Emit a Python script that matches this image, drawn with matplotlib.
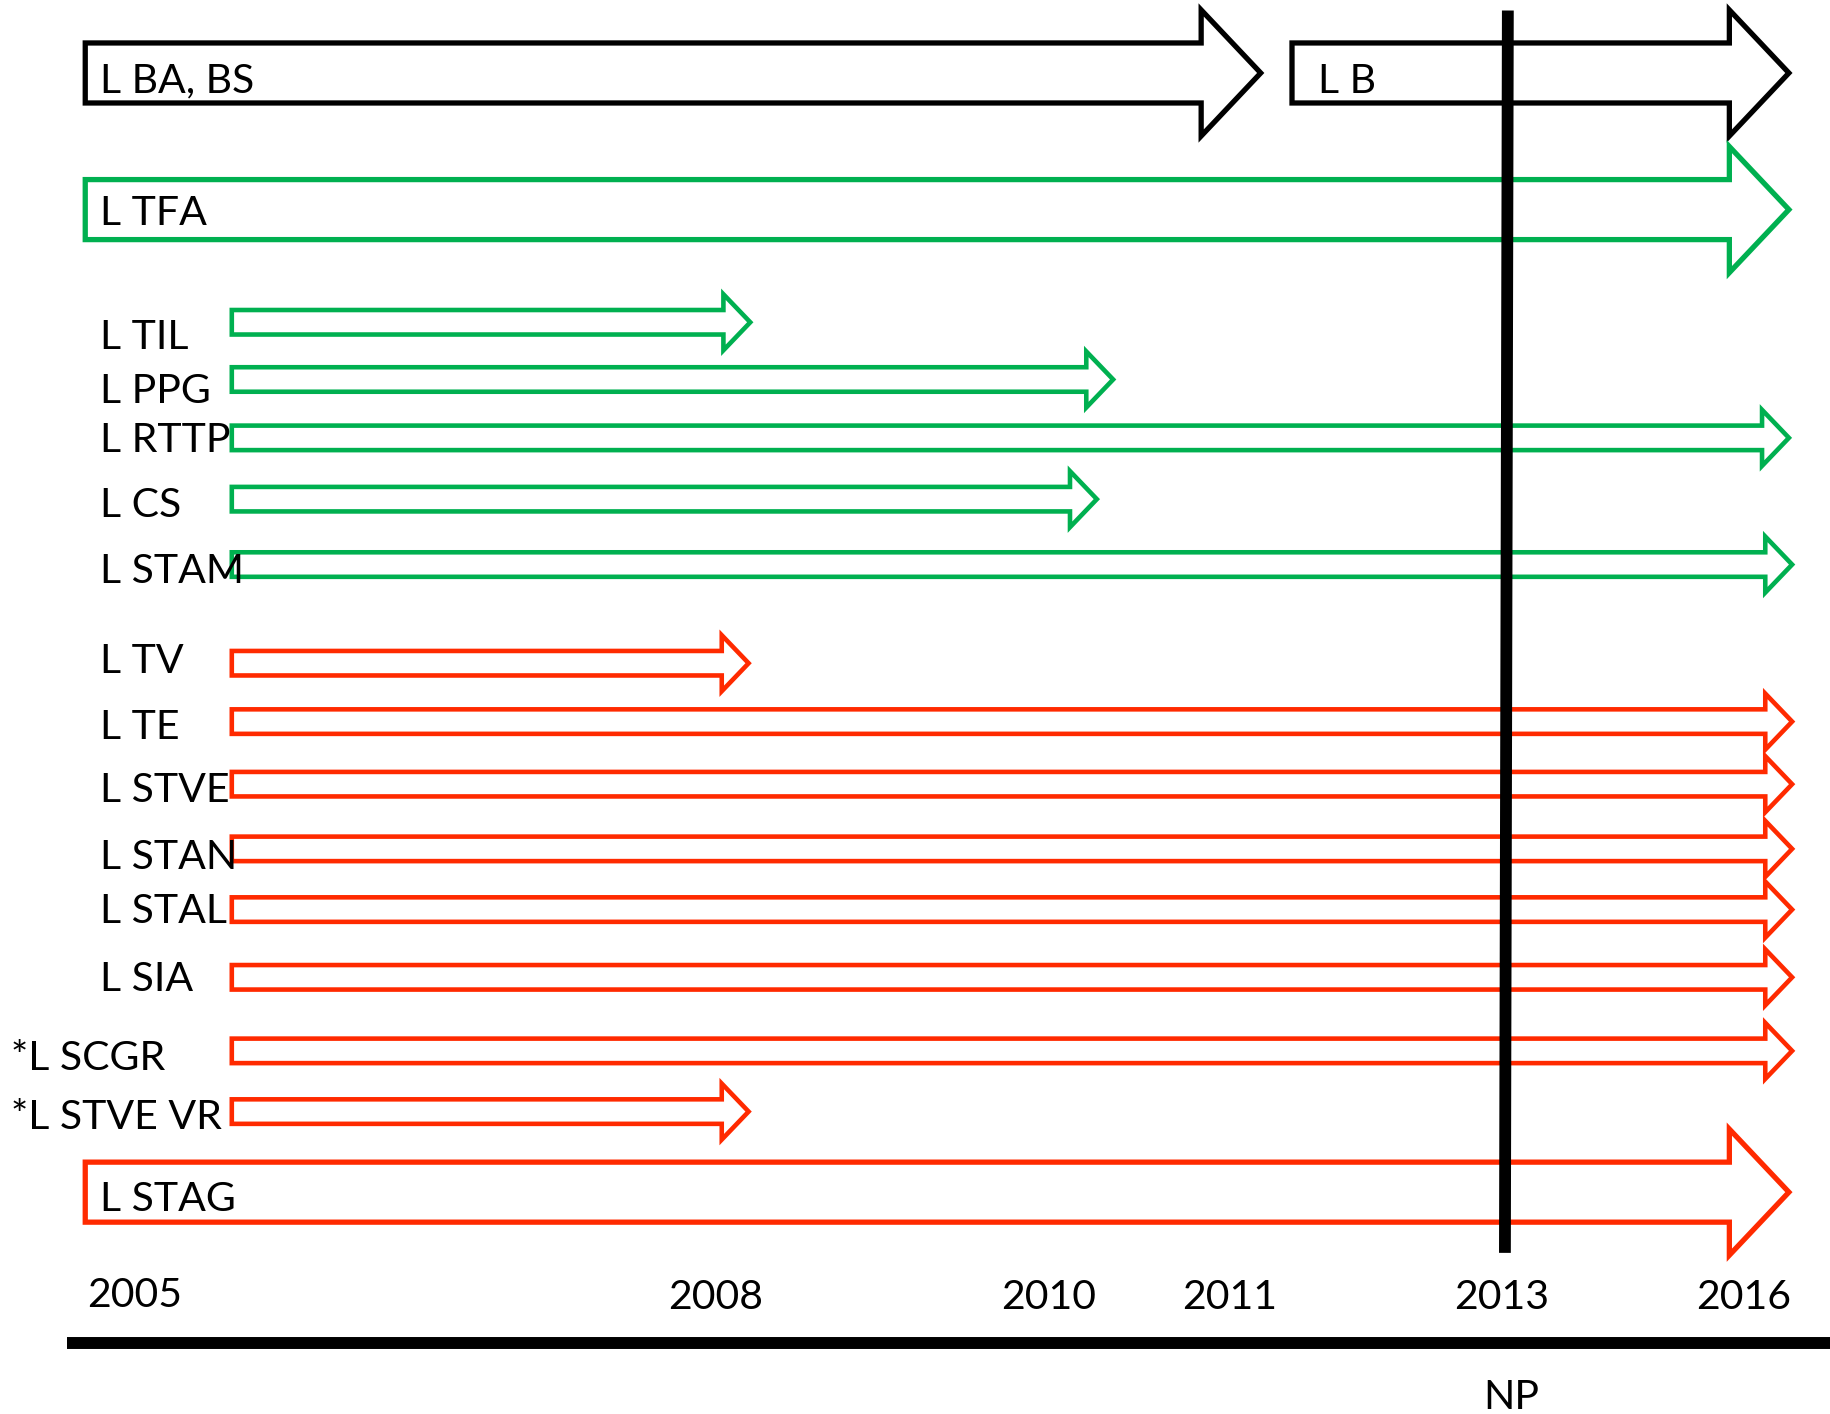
"""Timeline of L programmes, 2005-2016

Outline arrows for each programme, coloured by group, with the NP marker
at 2013 and the year axis at the bottom.
"""
import numpy as np
import matplotlib.pyplot as plt
from matplotlib.patches import Polygon

# year axis (labels, and where each year sits on the non-linear timeline)
YEARS = [2005, 2008, 2010, 2011, 2013, 2016]
YEAR_X = [116, 614, 899, 1054, 1287, 1494]
NP_YEAR = 2013.04

# wide arrows with the label written inside
WIDE_LABELS = ["L BA, BS", "L B", "L TFA", "L STAG"]
WIDE_START = [None, 2011.45, None, None]   # None -> left edge of the chart
WIDE_END = [2011.22, 2016.55, 2016.55, 2016.55]
WIDE_COLOR = ["black", "black", "green", "red"]

# thin arrows with the label on the left
THIN_LABELS = ["L TIL", "L PPG", "L RTTP", "L CS", "L STAM",
               "L TV", "L TE", "L STVE", "L STAN", "L STAL", "L SIA",
               "*L SCGR", "*L STVE VR"]
THIN_END = [2008.2, 2010.35, 2016.55, 2010.26, 2016.59,
            2008.19, 2016.59, 2016.59, 2016.59, 2016.59, 2016.59,
            2016.59, 2008.19]
THIN_COLOR = ["green"] * 5 + ["red"] * 8

COLORS = {"black": "#000000", "green": "#00b050", "red": "#ff2a00"}

# layout, in pixels of the 1568 x 1211 canvas
W, H = 1568, 1211
WIDE_Y = [62.5, 62.5, 179.5, 1021]
WIDE_TEXT_Y = [67, 67, 180, 1024.5]
THIN_Y = [276, 325, 375, 427.5, 483.5, 568, 618, 671.6, 727, 779, 837,
          900, 952]
THIN_TEXT_Y = [286.6, 332.6, 374.7, 430.6, 486.7, 563.6, 620, 674, 732,
               777.6, 836, 903.7, 954]
LEFT_X = 73
THIN_X = 198.5
CAP = 12.6
FS = 29.5


def year_to_x(year):
    """Piecewise linear timeline, extrapolated past the last year"""
    if year > YEARS[-1]:
        slope = (YEAR_X[-1] - YEAR_X[-2]) / (YEARS[-1] - YEARS[-2])
        return YEAR_X[-1] + (year - YEARS[-1]) * slope
    return float(np.interp(year, YEARS, YEAR_X))


def arrow(ax, x0, x1, yc, half, head_half, head_len, color, lw):
    pts = [(x0, yc - half), (x1 - head_len, yc - half),
           (x1 - head_len, yc - head_half), (x1, yc),
           (x1 - head_len, yc + head_half), (x1 - head_len, yc + half),
           (x0, yc + half)]
    ax.add_patch(Polygon(pts, closed=True, facecolor="none",
                         edgecolor=color, lw=lw, joinstyle="miter", zorder=2))


def main():
    plt.rcParams["font.family"] = ["Lato", "DejaVu Sans"]
    fig = plt.figure(figsize=(18.31, 14.14), dpi=100)
    ax = fig.add_axes([0, 0, 1, 1])
    ax.set_xlim(0, W)
    ax.set_ylim(H, 0)
    ax.axis("off")

    for lab, start, end, col, yc, ty in zip(WIDE_LABELS, WIDE_START,
                                            WIDE_END, WIDE_COLOR, WIDE_Y,
                                            WIDE_TEXT_Y):
        x0 = LEFT_X if start is None else year_to_x(start)
        arrow(ax, x0, year_to_x(end), yc, 25.7, 54, 51, COLORS[col], 3.8)
        pad = 13 if start is None else 22.5
        ax.text(x0 + pad, ty + CAP, lab, fontsize=FS, va="baseline",
                ha="left", zorder=3)

    for lab, end, col, yc, ty in zip(THIN_LABELS, THIN_END, THIN_COLOR,
                                     THIN_Y, THIN_TEXT_Y):
        arrow(ax, THIN_X, year_to_x(end), yc, 10.5, 24, 23, COLORS[col], 3.3)
        tx = 9 if lab.startswith("*") else 86
        ax.text(tx, ty + CAP, lab, fontsize=FS, va="baseline", ha="left",
                zorder=3)

    # NP marker
    xnp = year_to_x(NP_YEAR)
    ax.plot([xnp + 1.5, xnp - 1], [9, 1073], color="black", lw=8.5,
            solid_capstyle="butt", zorder=4)
    ax.text(xnp + 4, 1207, "NP", fontsize=FS, ha="center", va="baseline")

    # year axis
    for yr, x in zip(YEARS, YEAR_X):
        yb = 1119.6 if yr == YEARS[0] else 1121.5
        ax.text(x - 1, yb, str(yr), fontsize=FS, ha="center", va="baseline")
    ax.plot([57, W], [1150, 1150], color="black", lw=8.6,
            solid_capstyle="butt", clip_on=False)

    fig.savefig("out.png", dpi=100)
    plt.close(fig)


if __name__ == "__main__":
    main()
